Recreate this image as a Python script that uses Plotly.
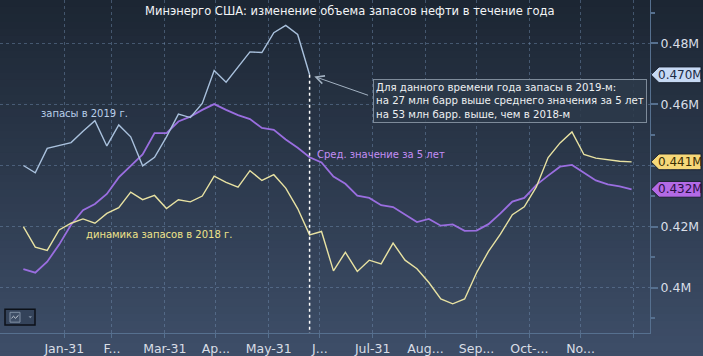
import plotly.graph_objects as go
import pandas as pd

# ---------------- data ----------------
week_start = "2019-01-07"
n_weeks = 52
dates = pd.date_range(week_start, periods=n_weeks, freq="7D")

stocks_2019 = [0.4400, 0.4376, 0.4456, 0.4466, 0.4475, 0.4512, 0.4547, 0.4464,
               0.4533, 0.4494, 0.4399, 0.4427, 0.4494, 0.4568, 0.4557, 0.4603,
               0.4711, 0.4673, 0.4722, 0.4772, 0.4770, 0.4835, 0.4859, 0.4829,
               0.4697]

stocks_2018 = [0.4200, 0.4133, 0.4122, 0.4189, 0.4211, 0.4225, 0.4211, 0.4243,
               0.4262, 0.4313, 0.4288, 0.4302, 0.4259, 0.4288, 0.4281, 0.4300,
               0.4365, 0.4345, 0.4329, 0.4383, 0.4351, 0.4370, 0.4326, 0.4259,
               0.4173, 0.4184, 0.4055, 0.4116, 0.4053, 0.4090, 0.4078, 0.4146,
               0.4090, 0.4062, 0.4017, 0.3963, 0.3947, 0.3963, 0.4049, 0.4119,
               0.4175, 0.4239, 0.4265, 0.4329, 0.4426, 0.4474, 0.4510, 0.4436,
               0.4424, 0.4418, 0.4414, 0.4412]

avg_5y = [0.4061, 0.4049, 0.4085, 0.4141, 0.4206, 0.4254, 0.4274, 0.4307,
          0.4361, 0.4399, 0.4436, 0.4506, 0.4506, 0.4544, 0.4560, 0.4582,
          0.4601, 0.4582, 0.4565, 0.4552, 0.4523, 0.4517, 0.4485, 0.4458,
          0.4427, 0.4410, 0.4364, 0.4340, 0.4301, 0.4294, 0.4270, 0.4264,
          0.4240, 0.4215, 0.4225, 0.4203, 0.4207, 0.4186, 0.4187, 0.4208,
          0.4243, 0.4282, 0.4294, 0.4336, 0.4367, 0.4396, 0.4402, 0.4377,
          0.4351, 0.4338, 0.4332, 0.4322]

month_ticks = ["2019-01-31", "2019-02-28", "2019-03-31", "2019-04-30",
               "2019-05-31", "2019-06-30", "2019-07-31", "2019-08-31",
               "2019-09-30", "2019-10-31", "2019-11-30", "2019-12-31"]
month_labels = ["Jan-31", "F...", "Mar-31", "Ap...", "May-31", "J...",
                "Jul-31", "Aug...", "Sep...", "Oct-...", "No...", ""]

y_ticks = [0.40, 0.42, 0.44, 0.46, 0.48]
y_labels = ["0.4M", "0.42M", "0.44M", "0.46M", "0.48M"]

title_text = "Минэнерго США: изменение объема запасов нефти в течение года"
label_2019 = "запасы в 2019 г."
label_2018 = "динамика запасов в 2018 г."
label_avg = "Сред. значение за 5 лет"
note_lines = ["Для данного времени года запасы в 2019-м:",
              "на 27 млн барр выше среднего значения за 5 лет",
              "на 53 млн барр. выше, чем в 2018-м"]

# ---------------- style ----------------
W, H = 703, 356
ML, MR, MT, MB = 0, 53, 0, 18
PW, PH = W - ML - MR, H - MT - MB
FONT = "DejaVu Sans"
C2019 = "#a9c1dd"
C2018 = "#e8e2a2"
CAVG = "#9a6ee0"
GRID = "rgba(115,145,180,0.45)"
AXIS = "#56708f"

x_range = ["2018-12-24 07:00", "2020-01-09 19:00"]
y_range = [0.38516, 0.49419]


def px_x(p):
    return (p - ML) / PW


def px_y(p):
    return 1 - (p - MT) / PH


fig = go.Figure()

fig.add_trace(go.Scatter(x=dates[:len(avg_5y)], y=avg_5y, mode="lines",
                         line=dict(color=CAVG, width=1.8), hoverinfo="skip"))
fig.add_trace(go.Scatter(x=dates[:len(stocks_2018)], y=stocks_2018, mode="lines",
                         line=dict(color=C2018, width=1.4), hoverinfo="skip"))
fig.add_trace(go.Scatter(x=dates[:len(stocks_2019)], y=stocks_2019, mode="lines",
                         line=dict(color=C2019, width=1.4), hoverinfo="skip"))

shapes = []
# background gradient
top = (28, 38, 51)
bot = (61, 77, 103)
N = 48
y_lo, y_hi = px_y(H), px_y(0)
for i in range(N):
    t = i / (N - 1)
    c = tuple(round(top[k] + (bot[k] - top[k]) * t) for k in range(3))
    y1 = y_hi - (y_hi - y_lo) * i / N
    y0 = y_hi - (y_hi - y_lo) * (i + 1) / N
    shapes.append(dict(type="rect", xref="paper", yref="paper",
                       x0=px_x(0), x1=px_x(W), y0=y0 - 0.002, y1=y1 + 0.002,
                       fillcolor="rgb(%d,%d,%d)" % c, line=dict(width=0),
                       layer="below"))

# vertical dotted marker at end of 2019 data
last_i = len(stocks_2019) - 1
shapes.append(dict(type="line", xref="x", yref="y",
                   x0=dates[last_i], x1=dates[last_i],
                   y0=stocks_2019[last_i], y1=y_range[0],
                   line=dict(color="white", width=1.5, dash="dot")))

# value tags on right axis
tag_specs = [(stocks_2019[-1], "#c6d9f4", "#1b2a44"),
             (stocks_2018[-1], "#f6d879", "#3a2e05"),
             (avg_5y[-1], "#b36ae6", "#2a0f45")]
half_h = 8 / PH * (y_range[1] - y_range[0])
annotations = []
for v, bg, fg in tag_specs:
    xt, xb, xr = px_x(651), px_x(659), px_x(701)
    path = (f"M {xt},{v} L {xb},{v + half_h} L {xr},{v + half_h} "
            f"L {xr},{v - half_h} L {xb},{v - half_h} Z")
    shapes.append(dict(type="path", xref="paper", yref="y", path=path,
                       fillcolor=bg, line=dict(color="#1a2230", width=1),
                       layer="above"))
    annotations.append(dict(xref="paper", yref="y", x=px_x(680), y=v,
                            text=f"{v:.3f}M", showarrow=False,
                            font=dict(family=FONT, size=12, color=fg),
                            xanchor="center", yanchor="middle"))

# small widget icon bottom-left
shapes.append(dict(type="rect", xref="paper", yref="paper",
                   x0=px_x(5), x1=px_x(35), y0=px_y(330), y1=px_y(314),
                   fillcolor="#34435a", line=dict(color="#0c1118", width=1.5)))
shapes.append(dict(type="rect", xref="paper", yref="paper",
                   x0=px_x(10), x1=px_x(20), y0=px_y(327), y1=px_y(317),
                   fillcolor="#3e4e66", line=dict(color="#8090a4", width=1)))
shapes.append(dict(type="path", xref="paper", yref="paper",
                   path=(f"M {px_x(11.5)},{px_y(323)} L {px_x(13.5)},{px_y(321)} "
                         f"L {px_x(15.5)},{px_y(323)} L {px_x(18.5)},{px_y(320)}"),
                   line=dict(color="#c8d0da", width=1)))
shapes.append(dict(type="path", xref="paper", yref="paper",
                   path=(f"M {px_x(28.5)},{px_y(321)} L {px_x(32)},{px_y(321)} "
                         f"L {px_x(30.25)},{px_y(323)} Z"),
                   fillcolor="#7f8ea2", line=dict(width=0)))

# title
annotations.append(dict(xref="paper", yref="paper", x=px_x(350), y=px_y(11),
                        text=title_text, showarrow=False,
                        font=dict(family=FONT, size=11.5, color="#f2f4f6"),
                        xanchor="center", yanchor="middle"))
# series labels
annotations.append(dict(xref="paper", yref="paper", x=px_x(39), y=px_y(115),
                        text=label_2019, showarrow=False,
                        font=dict(family=FONT, size=10, color="#b9cfe9"),
                        xanchor="left", yanchor="middle"))
annotations.append(dict(xref="paper", yref="paper", x=px_x(84), y=px_y(238),
                        text=label_2018, showarrow=False,
                        font=dict(family=FONT, size=10, color="#efe38a"),
                        xanchor="left", yanchor="middle"))
annotations.append(dict(xref="paper", yref="paper", x=px_x(315), y=px_y(157),
                        text=label_avg, showarrow=False,
                        font=dict(family=FONT, size=10, color="#c48ef5"),
                        xanchor="left", yanchor="middle"))
# note box
annotations.append(dict(xref="paper", yref="paper", x=px_x(373), y=px_y(80),
                        text="<br>".join(note_lines), showarrow=False,
                        align="left", xanchor="left", yanchor="top",
                        bgcolor="rgba(45,57,74,0.85)", bordercolor="#7e8b9a",
                        borderwidth=1, borderpad=2,
                        font=dict(family=FONT, size=10.2, color="#eef0f2")))
# arrow to the last 2019 point
annotations.append(dict(xref="x", yref="y", x=dates[last_i], y=stocks_2019[last_i],
                        text="", showarrow=True, ax=60, ay=21,
                        arrowhead=5, arrowsize=1.6, arrowwidth=1,
                        arrowcolor="#a3b2c2", standoff=5))

fig.update_layout(
    width=W, height=H,
    margin=dict(l=ML, r=MR, t=MT, b=MB, pad=0),
    paper_bgcolor="rgb(61,77,103)",
    plot_bgcolor="rgba(0,0,0,0)",
    showlegend=False,
    shapes=shapes,
    annotations=annotations,
    xaxis=dict(type="date", range=x_range, tickvals=month_ticks,
               ticktext=month_labels, showgrid=True, gridcolor=GRID,
               griddash="3px,3px", gridwidth=1, showline=True,
               linecolor=AXIS, linewidth=1, ticks="outside", ticklen=4,
               tickcolor=AXIS, zeroline=False,
               tickfont=dict(family=FONT, size=12.5, color="#d9dee6"),
               fixedrange=True),
    yaxis=dict(side="right", range=y_range, tickvals=y_ticks,
               ticktext=y_labels, showgrid=True, gridcolor=GRID,
               griddash="3px,3px", gridwidth=1, showline=True,
               linecolor=AXIS, linewidth=1, ticks="outside", ticklen=7,
               tickwidth=2, tickcolor=AXIS, zeroline=False,
               minor=dict(dtick=0.01, tick0=0.39, ticks="outside", ticklen=4,
                          tickcolor=AXIS, showgrid=False),
               tickfont=dict(family=FONT, size=12.5, color="#d9dee6"),
               fixedrange=True),
)

fig.write_html("out.html", config={"displayModeBar": False},
               post_script="document.body.style.margin='0px';"
                           "document.body.style.overflow='hidden';")
